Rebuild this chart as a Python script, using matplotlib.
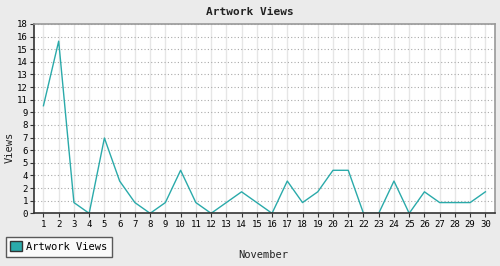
import numpy as np
import matplotlib
matplotlib.use("Agg")
import matplotlib.pyplot as plt
from matplotlib.patches import Patch

# data
days = list(range(1, 31))
views = [10, 16, 1, 0, 7, 3, 1, 0, 1, 4, 1, 0, 1, 2, 1, 0, 3, 1, 2, 4,
         4, 0, 0, 3, 0, 2, 1, 1, 1, 2]
y_max = 17.6
y_ticks = np.linspace(0, y_max, 16)
y_labels = ["0", "1", "2", "4", "5", "6", "7", "8", "9", "11", "12", "13",
            "14", "15", "16", "18"]

teal = "#2aaaaa"
bg = "#ebebeb"
mono = "DejaVu Sans Mono"

fig = plt.figure(figsize=(5, 2.66), dpi=100, facecolor=bg)
ax = fig.add_axes([0.0686, 0.198, 0.922, 0.712])
ax.set_facecolor("white")

ax.plot(days, views, color=teal, lw=1.0)

ax.set_xlim(0.4, 30.65)
ax.set_ylim(0, y_max)
ax.set_xticks(days)
ax.set_xticklabels([str(d) for d in days], fontsize=6.5, family=mono)
ax.set_yticks(y_ticks)
ax.set_yticklabels(y_labels, fontsize=6.5, family=mono)
ax.tick_params(axis="both", direction="out", length=3, width=0.8, color="#333333", pad=1.5)

ax.grid(axis="x", color="#e6e6e6", lw=1.0, ls="-")
ax.grid(axis="y", color="#aaaaaa", lw=0.8, ls=(0, (1, 2)))
ax.set_axisbelow(True)

for s in ["left", "bottom"]:
    ax.spines[s].set_color("#333333")
    ax.spines[s].set_linewidth(1.2)
for s in ["top", "right"]:
    ax.spines[s].set_color("#999999")
    ax.spines[s].set_linewidth(1.2)

fig.text(0.5, 0.955, "Artwork Views", ha="center", va="center",
         fontsize=8, fontweight="bold", family=mono, color="#222222")
fig.text(0.527, 0.042, "November", ha="center", va="center",
         fontsize=7.5, family=mono, color="#222222")
fig.text(0.02, 0.445, "Views", ha="center", va="center", rotation=90,
         fontsize=7.5, family=mono, color="#222222")

handle = Patch(facecolor=teal, edgecolor="#333333", lw=1.0, label="Artwork Views")
leg = fig.legend(handles=[handle], loc="lower left", bbox_to_anchor=(0.011, 0.035),
                 prop={"family": mono, "size": 7.5}, frameon=True, fancybox=False,
                 handlelength=1.1, handleheight=1.1, handletextpad=0.4,
                 borderpad=0.45, borderaxespad=0)
leg.get_frame().set_edgecolor("#333333")
leg.get_frame().set_linewidth(1.0)
leg.get_frame().set_facecolor("white")

fig.savefig("out.png", dpi=100, facecolor=bg)
